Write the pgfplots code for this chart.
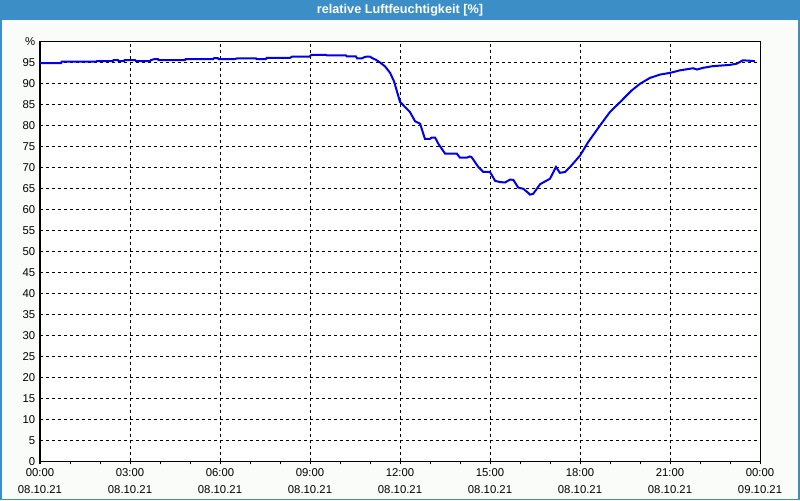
\documentclass[border=0pt]{standalone}
\usepackage{pgfplots}
\pgfplotsset{compat=1.18}
\usepackage{fontspec}
\setmainfont{Liberation Sans}
\definecolor{titleblue}{RGB}{60,143,198}
\definecolor{bgc}{RGB}{250,252,250}
\definecolor{curve}{RGB}{0,0,235}
\begin{document}
\begin{tikzpicture}[x=1pt,y=1pt]
\fill[bgc] (0,0) rectangle (600,375);
\fill[titleblue] (0,360) rectangle (600,375);
\draw[titleblue, line width=1.2pt] (0.6,0.6) rectangle (599.4,374.4);
\node[white, font=\bfseries\fontsize{9.5}{11}\selectfont] at (300,367.5) {relative Luftfeuchtigkeit [\%]};
\begin{axis}[
  scale only axis, width=540pt, height=315pt,
  at={(30pt,29.25pt)}, anchor=south west,
  xmin=0, xmax=24, ymin=0, ymax=100,
  axis background/.style={fill=white},
  axis line style={black, line width=0.75pt},
  xtick={0,3,...,24},
  minor x tick num=2,
  ytick={0,5,...,100},
  yticklabels={0,5,10,15,20,25,30,35,40,45,50,55,60,65,70,75,80,85,90,95,\%},
  xticklabels={{00:00\\08.10.21},{03:00\\08.10.21},{06:00\\08.10.21},{09:00\\08.10.21},{12:00\\08.10.21},{15:00\\08.10.21},{18:00\\08.10.21},{21:00\\08.10.21},{00:00\\09.10.21}},
  xticklabel style={align=center},
  tick label style={font=\fontsize{8.5}{12.5}\selectfont},
  /pgf/number format/assume math mode=true,
  tick pos=left,
  xtick align=outside,
  major tick length=2.25pt, minor tick length=2.25pt,
  xtick style={black, line width=0.75pt},
  ytick style={draw=none},
  xmajorgrids, ymajorgrids,
  major grid style={black, line width=0.75pt, dash pattern=on 2.25pt off 2.25pt},
]
\addplot[curve, line width=1.5pt] table {
0.00 94.8
0.70 94.8
0.72 95.15
1.87 95.15
1.90 95.3
2.43 95.3
2.45 95.55
2.60 95.55
2.62 95.3
2.80 95.3
2.82 95.55
3.17 95.55
3.20 95.3
3.67 95.3
3.70 95.55
3.83 95.8
3.93 95.8
3.95 95.55
4.83 95.55
4.86 95.8
5.77 95.8
5.80 96.0
5.93 96.0
5.95 95.8
6.50 95.8
6.57 95.95
7.20 95.95
7.22 95.8
7.53 95.8
7.55 96.05
8.33 96.05
8.40 96.35
8.98 96.35
9.05 96.8
9.53 96.8
9.57 96.65
10.20 96.65
10.23 96.4
10.53 96.4
10.57 95.95
10.73 95.95
10.80 96.2
10.87 96.35
11.00 96.35
11.07 96.05
11.20 95.6
11.33 95.0
11.50 94.05
11.67 92.5
11.80 90.5
12.00 85.6
12.33 83.2
12.50 81.0
12.67 80.4
12.83 76.8
13.00 76.8
13.06 77.1
13.17 77.1
13.28 75.6
13.50 73.3
13.89 73.3
14.00 72.3
14.22 72.3
14.33 72.6
14.39 72.4
14.61 70.1
14.78 68.9
15.00 68.9
15.17 66.8
15.33 66.5
15.50 66.4
15.67 67.1
15.78 67.0
15.94 65.2
16.11 64.9
16.28 63.9
16.33 63.5
16.44 63.7
16.67 66.0
17.00 67.3
17.20 70.1
17.33 68.7
17.50 68.9
17.67 70.1
18.00 72.8
18.27 76.0
18.67 80.0
19.00 83.2
19.33 85.5
19.72 88.3
20.00 89.9
20.33 91.3
20.67 92.1
21.00 92.5
21.33 93.1
21.77 93.6
21.90 93.3
22.10 93.7
22.43 94.1
23.00 94.4
23.23 94.7
23.43 95.5
23.83 95.3
};
\end{axis}
\end{tikzpicture}
\end{document}
